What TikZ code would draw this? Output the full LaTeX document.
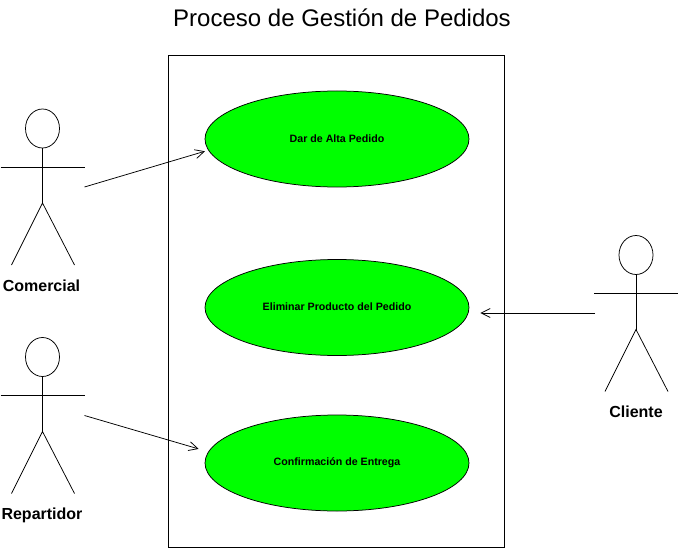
\documentclass[tikz,border=0pt]{standalone}
\usepackage{fontspec}
\setmainfont{Liberation Sans}
\usetikzlibrary{arrows.meta,shapes.geometric}
\definecolor{verdecaso}{RGB}{0,255,0}
\tikzset{
	casouso/.style={draw,ellipse,fill=verdecaso,minimum width=264pt,minimum height=96pt,inner sep=0pt,font=\bfseries\fontsize{10.65}{12}\selectfont},
	nombreactor/.style={font=\bfseries\fontsize{16}{19}\selectfont},
	cabeza/.style={draw,ellipse,minimum width=34pt,minimum height=39pt,inner sep=0pt},
	flecha/.style={-{Straight Barb[length=9pt,width=9pt]}},
	actor/.pic={
		\node[cabeza] (-head) at (0,-19.5) {};
		\draw (-head.south) -- (0,55);
		\draw (-42,19) -- (42,19);
		\draw (-31,117) -- (0,55) -- (32,117);
		\coordinate (-right) at (42,39);
		\coordinate (-left) at (-41,38.5);
	}
}
\begin{document}
\begin{tikzpicture}[x=1pt,y=-1pt,line width=0.75pt]
	\useasboundingbox (0,0) rectangle (679,548);
	\node[font=\fontsize{24}{28}\selectfont] (title) at (342,18) {Proceso de Gestión de Pedidos};
	% sistema
	\draw (168.5,55) rectangle (504,547);
	\node[casouso] (alta) at (337,139) {\raisebox{1pt}{Dar de Alta Pedido}};
	\node[casouso] (eliminar) at (337,307.5) {\raisebox{1pt}{Eliminar Producto del Pedido}};
	\node[casouso] (entrega) at (337,463) {\raisebox{1pt}{Confirmación de Entrega}};
	% actores
	\pic (comercial) at (42.5,148) {actor};
	\pic (repartidor) at (42.5,376.5) {actor};
	\pic (cliente) at (636,274.5) {actor};
	\node[nombreactor] (nomcomercial) at (41.5,286) {Comercial};
	\node[nombreactor] (nomrepartidor) at (42,515) {Repartidor};
	\node[nombreactor] (nomcliente) at (636,412) {Cliente};
	% flechas
	\draw[flecha,shorten >=3.5pt] (comercial-right) -- (alta.185);
	\draw[flecha,shorten >=10pt] (repartidor-right) -- (entrega.175);
	\draw[flecha,shorten >=11pt] (cliente-left) -- (cliente-left -| eliminar.east);
\end{tikzpicture}
\end{document}
